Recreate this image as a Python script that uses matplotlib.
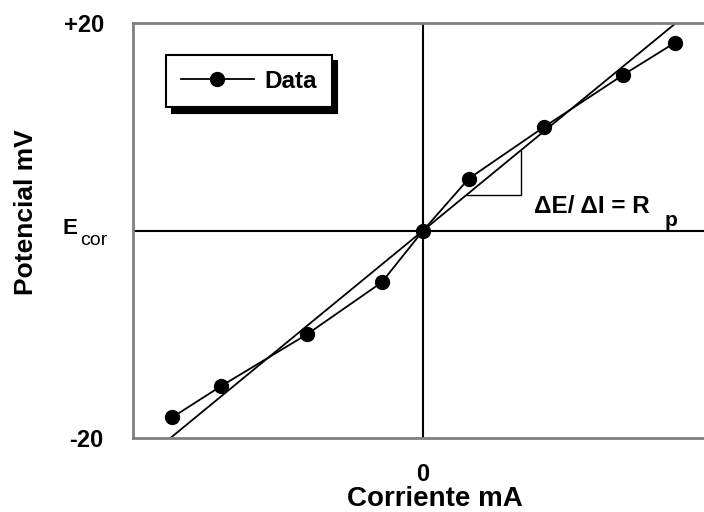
import matplotlib
matplotlib.use("Agg")
import matplotlib.pyplot as plt

plt.rcParams["font.family"] = ["Liberation Sans", "DejaVu Sans"]

# polarisation data
current = [-24.2, -19.5, -11.2, -4.0, 0.0, 4.4, 11.7, 19.3, 24.3]
potential = [-18.0, -15.0, -10.0, -5.0, 0.0, 5.0, 10.0, 15.0, 18.1]

# linear fit through the origin, slope = Rp
rp_slope = 0.82
fit_x = [-26.0, 26.0]
fit_y = [rp_slope * v for v in fit_x]

# little slope triangle under the fit line
tri_x = [4.2, 9.4, 9.4]
tri_y = [rp_slope * 4.2, rp_slope * 4.2, rp_slope * 9.4]

ytick_vals = [-20, 20]
ytick_labels = ["-20", "+20"]
xtick_vals = [0]
xtick_labels = ["0"]

fig = plt.figure(figsize=(7.04, 5.12), dpi=100)
ax = fig.add_axes([133 / 704, 1 - 438 / 512, 1 - 133 / 704, (438 - 23) / 512])

ax.axhline(0, color="black", lw=1.5, zorder=1)
ax.axvline(0, color="black", lw=1.5, zorder=1)
ax.plot(fit_x, fit_y, color="black", lw=1.3, zorder=2)
ax.plot(tri_x, tri_y, color="black", lw=1.0, zorder=2)
ax.plot(current, potential, color="black", lw=1.3, marker="o", markersize=10,
        label="Data", zorder=3)

ax.set_xlim(-28, 27.1)
ax.set_ylim(-20, 20)

for side in ("left", "top", "bottom"):
    ax.spines[side].set_color("#808080")
    ax.spines[side].set_linewidth(2)
ax.spines["right"].set_visible(False)

ax.set_xticks(xtick_vals, xtick_labels, fontsize=17, fontweight="bold")
ax.set_yticks(ytick_vals, ytick_labels, fontsize=17, fontweight="bold")
ax.tick_params(axis="x", length=0, pad=18)
ax.tick_params(axis="y", length=0, pad=21)

# E_cor label at the zero potential level
ytr = ax.get_yaxis_transform()
ax.text(-0.124, -0.29, "E", transform=ytr, ha="left", va="baseline",
        fontsize=16, fontweight="bold")
ax.text(-0.093, -1.35, "cor", transform=ytr, ha="left", va="baseline", fontsize=14)

ax.set_xlabel("Corriente mA", fontsize=20, fontweight="bold", va="baseline")
ax.xaxis.set_label_coords(0.528, -(506 - 438) / 415)
ax.set_ylabel("Potencial mV", fontsize=19, fontweight="bold")
ax.yaxis.set_label_coords(-0.166, 0.545)

ax.text(10.7, 1.64, "\u0394E/ \u0394I = R", fontsize=17.5, fontweight="bold",
        ha="left", va="baseline")
ax.text(23.3, 0.48, "p", fontsize=15, fontweight="bold", ha="left", va="baseline")

leg = ax.legend(loc="upper left", bbox_to_anchor=(0.058, 0.923), borderaxespad=0,
                frameon=True, fancybox=False, borderpad=0.6, handlelength=3.0,
                handletextpad=0.45, prop={"size": 17.5, "weight": "bold"},
                shadow={"ox": 4, "oy": -4, "color": "black", "alpha": 1})
leg.get_frame().set_edgecolor("black")
leg.get_frame().set_linewidth(1.5)

fig.savefig("out.png", dpi=100)
